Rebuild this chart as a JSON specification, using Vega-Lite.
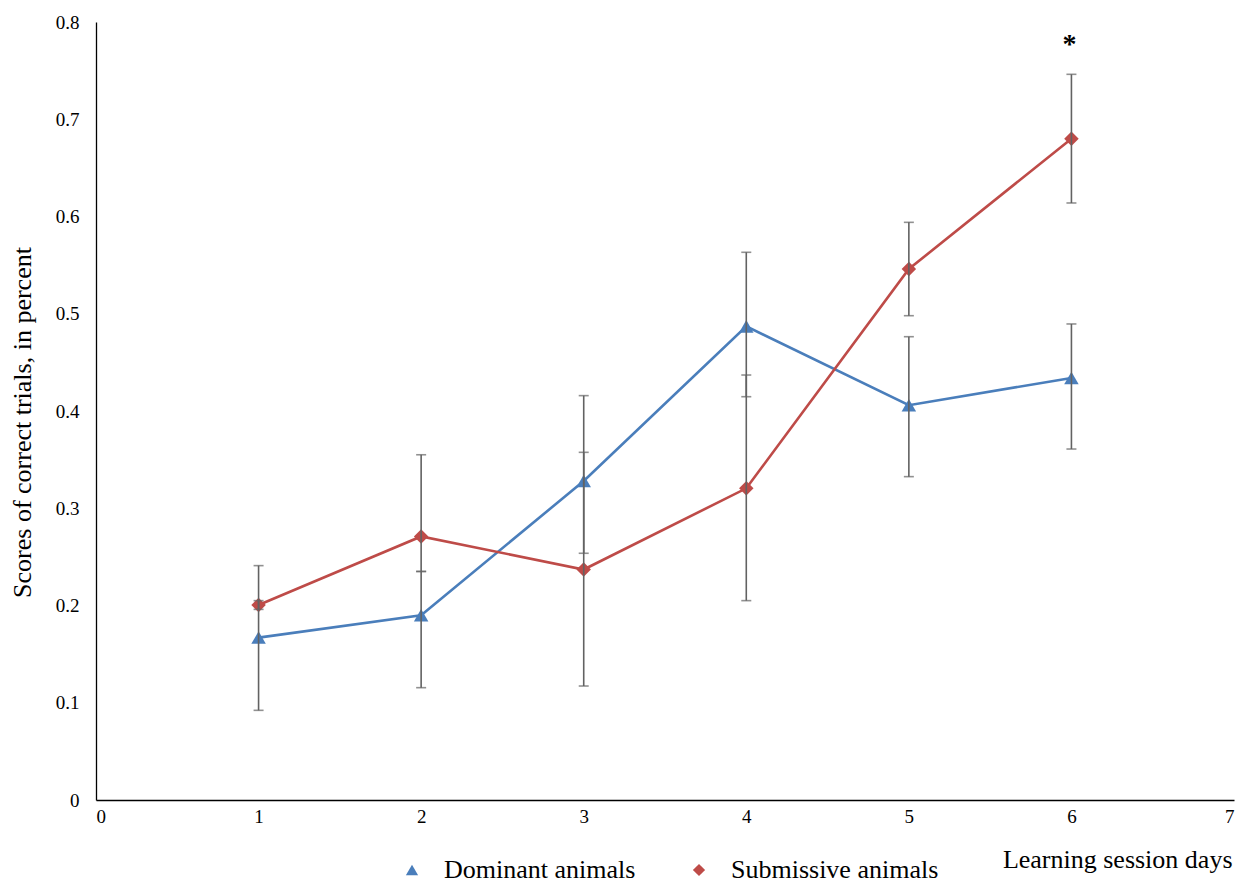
{
  "$schema": "https://vega.github.io/schema/vega-lite/v6.json",
  "width": 1138,
  "height": 778,
  "autosize": {"type": "none"},
  "padding": {"left": 96, "top": 22, "right": 7, "bottom": 87},
  "background": "#ffffff",
  "config": {
    "view": {"stroke": null},
    "axis": {
      "grid": false,
      "ticks": false,
      "tickSize": 0,
      "domainColor": "#000000",
      "domainWidth": 1.3,
      "labelFont": "Liberation Serif",
      "labelFontSize": 19,
      "labelColor": "#000000",
      "titleFont": "Liberation Serif",
      "titleFontSize": 26,
      "titleFontWeight": "normal",
      "titleColor": "#000000"
    },
    "axisX": {
      "labelPadding": 7,
      "titleX": 1136,
      "titleY": 59,
      "titleAlign": "right",
      "titleBaseline": "middle",
      "titleAnchor": "end"
    },
    "axisY": {
      "labelPadding": 17,
      "titleX": -74,
      "titleY": 400,
      "titleAlign": "center",
      "titleBaseline": "middle",
      "titleAngle": -90
    },
    "legend": {
      "orient": "none",
      "legendX": 303,
      "legendY": 835,
      "direction": "horizontal",
      "padding": 0,
      "offset": 0,
      "labelFont": "Liberation Serif",
      "labelFontSize": 26,
      "labelColor": "#000000",
      "labelOffset": 19,
      "labelLimit": 400,
      "columnPadding": 50,
      "symbolSize": 150,
      "symbolStrokeWidth": 2.5
    }
  },
  "data": {
    "values": [
      {"day": 1, "group": "Dominant animals", "mean": 0.167, "lo": 0.0922, "hi": 0.241},
      {"day": 1, "group": "Submissive animals", "mean": 0.2005, "lo": 0.196, "hi": 0.205},
      {"day": 2, "group": "Dominant animals", "mean": 0.19, "lo": 0.1155, "hi": 0.235},
      {"day": 2, "group": "Submissive animals", "mean": 0.271, "lo": 0.235, "hi": 0.355},
      {"day": 3, "group": "Dominant animals", "mean": 0.328, "lo": 0.2537, "hi": 0.4158},
      {"day": 3, "group": "Submissive animals", "mean": 0.237, "lo": 0.1172, "hi": 0.3575},
      {"day": 4, "group": "Dominant animals", "mean": 0.487, "lo": 0.4147, "hi": 0.5632},
      {"day": 4, "group": "Submissive animals", "mean": 0.3205, "lo": 0.205, "hi": 0.437},
      {"day": 5, "group": "Dominant animals", "mean": 0.406, "lo": 0.3325, "hi": 0.4764},
      {"day": 5, "group": "Submissive animals", "mean": 0.546, "lo": 0.498, "hi": 0.594},
      {"day": 6, "group": "Dominant animals", "mean": 0.434, "lo": 0.3609, "hi": 0.4895},
      {"day": 6, "group": "Submissive animals", "mean": 0.68, "lo": 0.6139, "hi": 0.7462, "sig": "*"}
    ]
  },
  "encoding": {
    "x": {
      "field": "day", "type": "quantitative",
      "scale": {"domain": [0, 7], "nice": false, "zero": false},
      "axis": {"values": [0, 1, 2, 3, 4, 5, 6, 7], "format": "d", "title": "Learning session days"}
    }
  },
  "layer": [
    {
      "transform": [{"filter": "datum.group === 'Dominant animals'"}],
      "mark": {"type": "line", "strokeWidth": 2.6, "color": "#4A7EBB"},
      "encoding": {
        "y": {
          "field": "mean", "type": "quantitative",
          "scale": {"domain": [0, 0.8], "nice": false},
          "axis": {"values": [0, 0.1, 0.2, 0.3, 0.4, 0.5, 0.6, 0.7, 0.8], "format": ".1~f", "title": "Scores of correct trials, in percent"}
        }
      }
    },
    {
      "transform": [{"filter": "datum.group === 'Submissive animals'"}],
      "mark": {"type": "line", "strokeWidth": 2.6, "color": "#BE4B48"},
      "encoding": {
        "y": {
          "field": "mean", "type": "quantitative",
          "scale": {"domain": [0, 0.8], "nice": false},
          "axis": {"values": [0, 0.1, 0.2, 0.3, 0.4, 0.5, 0.6, 0.7, 0.8], "format": ".1~f", "title": "Scores of correct trials, in percent"}
        }
      }
    },
    {
      "mark": {"type": "point", "filled": true, "opacity": 1, "size": 210},
      "encoding": {
        "y": {
          "field": "mean", "type": "quantitative",
          "scale": {"domain": [0, 0.8], "nice": false},
          "axis": {"values": [0, 0.1, 0.2, 0.3, 0.4, 0.5, 0.6, 0.7, 0.8], "format": ".1~f", "title": "Scores of correct trials, in percent"}
        },
        "shape": {
          "field": "group", "type": "nominal",
          "scale": {"domain": ["Dominant animals", "Submissive animals"], "range": ["triangle-up", "diamond"]},
          "legend": null
        },
        "color": {
          "field": "group", "type": "nominal",
          "scale": {"domain": ["Dominant animals", "Submissive animals"], "range": ["#4A7EBB", "#BE4B48"]},
          "legend": {"title": null}
        }
      }
    },
    {
      "mark": {"type": "rule", "color": "#626262", "strokeWidth": 1.6},
      "encoding": {
        "y": {
          "field": "lo", "type": "quantitative",
          "scale": {"domain": [0, 0.8], "nice": false},
          "axis": {"values": [0, 0.1, 0.2, 0.3, 0.4, 0.5, 0.6, 0.7, 0.8], "format": ".1~f", "title": "Scores of correct trials, in percent"}
        },
        "y2": {"field": "hi"}
      }
    },
    {
      "mark": {"type": "tick", "orient": "horizontal", "color": "#626262", "thickness": 1.6, "size": 10},
      "encoding": {
        "y": {
          "field": "lo", "type": "quantitative",
          "scale": {"domain": [0, 0.8], "nice": false},
          "axis": {"values": [0, 0.1, 0.2, 0.3, 0.4, 0.5, 0.6, 0.7, 0.8], "format": ".1~f", "title": "Scores of correct trials, in percent"}
        }
      }
    },
    {
      "mark": {"type": "tick", "orient": "horizontal", "color": "#626262", "thickness": 1.6, "size": 10},
      "encoding": {
        "y": {
          "field": "hi", "type": "quantitative",
          "scale": {"domain": [0, 0.8], "nice": false},
          "axis": {"values": [0, 0.1, 0.2, 0.3, 0.4, 0.5, 0.6, 0.7, 0.8], "format": ".1~f", "title": "Scores of correct trials, in percent"}
        }
      }
    },
    {
      "transform": [{"filter": "datum.sig"}],
      "mark": {"type": "text", "font": "Liberation Serif", "fontSize": 28, "fontWeight": "bold", "color": "#000000", "baseline": "alphabetic", "dy": -21, "dx": -2},
      "encoding": {
        "y": {
          "field": "hi", "type": "quantitative",
          "scale": {"domain": [0, 0.8], "nice": false},
          "axis": {"values": [0, 0.1, 0.2, 0.3, 0.4, 0.5, 0.6, 0.7, 0.8], "format": ".1~f", "title": "Scores of correct trials, in percent"}
        },
        "text": {"field": "sig"}
      }
    }
  ]
}
